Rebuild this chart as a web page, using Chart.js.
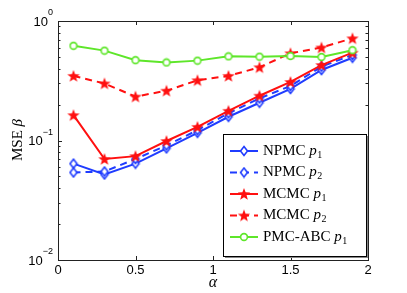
<!DOCTYPE html>
<html>
<head>
<meta charset="utf-8">
<script src="https://cdn.jsdelivr.net/npm/chart.js@4.4.1/dist/chart.umd.min.js"></script>
<style>
    body { margin: 0; background: #fff; }
    #wrap { width: 407px; height: 293px; }
</style>
</head>
<body>
<div id="wrap"><canvas id="mseChart" width="407" height="293"></canvas></div>
<script>
// alpha values on the x axis
const alphas = [0.1, 0.3, 0.5, 0.7, 0.9, 1.1, 1.3, 1.5, 1.7, 1.9];

// MSE of beta
const npmcP1 = [0.064, 0.052, 0.064, 0.086, 0.116, 0.158, 0.207, 0.270, 0.389, 0.493];
const npmcP2 = [0.054, 0.055, 0.070, 0.091, 0.122, 0.169, 0.225, 0.286, 0.415, 0.520];
const mcmcP1 = [0.163, 0.070, 0.074, 0.099, 0.130, 0.177, 0.237, 0.309, 0.428, 0.543];
const mcmcP2 = [0.347, 0.300, 0.233, 0.261, 0.319, 0.347, 0.410, 0.537, 0.600, 0.716];
const pmcAbcP1 = [0.620, 0.565, 0.470, 0.450, 0.466, 0.506, 0.503, 0.510, 0.500, 0.570];

const seriesNames = ['NPMC', 'NPMC', 'MCMC', 'MCMC', 'PMC-ABC'];
const seriesSubs = ['1', '2', '1', '2', '1'];

const xTicks = [0, 0.5, 1, 1.5, 2];
const yExps = [0, -1, -2];

const BLUE = '#1f3cff';
const RED = '#ff1010';
const GREEN = '#5ee62a';

const SANS = '"Liberation Sans", Arial, sans-serif';
const SERIF = '"Liberation Serif", "Times New Roman", serif';

function makeStar(color) {
    const c = document.createElement('canvas');
    c.width = 14; c.height = 14;
    const g = c.getContext('2d');
    g.fillStyle = color;
    g.beginPath();
    for (let i = 0; i < 10; i++) {
        const r = i % 2 === 0 ? 6.5 : 2.7;
        const a = -Math.PI / 2 + i * Math.PI / 5;
        const px = 7 + r * Math.cos(a), py = 7.5 + r * Math.sin(a);
        if (i === 0) g.moveTo(px, py); else g.lineTo(px, py);
    }
    g.closePath();
    g.fill();
    return c;
}

function makeDiamond(color) {
    const c = document.createElement('canvas');
    c.width = 10; c.height = 12;
    const g = c.getContext('2d');
    g.strokeStyle = color;
    g.lineWidth = 1.6;
    g.fillStyle = '#fff';
    g.beginPath();
    g.moveTo(5, 1.5); g.lineTo(8.5, 6); g.lineTo(5, 10.5); g.lineTo(1.5, 6);
    g.closePath();
    g.fill();
    g.stroke();
    return c;
}

function makeCircle(color) {
    const c = document.createElement('canvas');
    c.width = 10; c.height = 10;
    const g = c.getContext('2d');
    g.strokeStyle = color;
    g.lineWidth = 1.6;
    g.fillStyle = '#fff';
    g.beginPath();
    g.arc(5, 5, 3.4, 0, Math.PI * 2);
    g.fill();
    g.stroke();
    return c;
}

const diamondImg = makeDiamond(BLUE);
const starImg = makeStar(RED);
const circleImg = makeCircle(GREEN);

function pts(vals) {
    return vals.map((v, i) => ({ x: alphas[i], y: v }));
}

const datasets = [
    { data: pts(npmcP1), borderColor: BLUE, borderDash: [], pointStyle: diamondImg },
    { data: pts(npmcP2), borderColor: BLUE, borderDash: [7, 5], pointStyle: diamondImg },
    { data: pts(mcmcP1), borderColor: RED, borderDash: [], pointStyle: starImg },
    { data: pts(mcmcP2), borderColor: RED, borderDash: [7, 5], pointStyle: starImg },
    { data: pts(pmcAbcP1), borderColor: GREEN, borderDash: [], pointStyle: circleImg }
].map(d => Object.assign(d, { borderWidth: 2, tension: 0, fill: false }));

// reverse so the first series ends up on top
const drawOrder = datasets.slice().reverse();

const frame = {
    id: 'frame',
    afterDatasetsDraw(chart) {
        const ctx = chart.ctx;
        const a = chart.chartArea;
        const xs = chart.scales.x, ys = chart.scales.y;
        ctx.save();

        // axes box
        ctx.strokeStyle = '#222';
        ctx.lineWidth = 1;
        ctx.strokeRect(Math.round(a.left) + 0.5, Math.round(a.top) + 0.5, Math.round(a.right - a.left), Math.round(a.bottom - a.top));

        // x ticks (inward, bottom and top)
        ctx.beginPath();
        xTicks.forEach(t => {
            const px = Math.round(xs.getPixelForValue(t)) + 0.5;
            ctx.moveTo(px, a.bottom); ctx.lineTo(px, a.bottom - 4);
            ctx.moveTo(px, a.top); ctx.lineTo(px, a.top + 4);
        });
        // y log ticks on left and right
        for (let e = -2; e < 0; e++) {
            for (let m = 1; m <= 10; m++) {
                const py = Math.round(ys.getPixelForValue(m * Math.pow(10, e))) + 0.5;
                const len = (m === 1 || m === 10) ? 4 : 2.5;
                ctx.moveTo(a.left, py); ctx.lineTo(a.left + len, py);
                ctx.moveTo(a.right, py); ctx.lineTo(a.right - len, py);
            }
        }
        ctx.stroke();

        // tick labels
        ctx.fillStyle = '#000';
        ctx.font = '13px ' + SANS;
        ctx.textAlign = 'center';
        ctx.textBaseline = 'top';
        xTicks.forEach(t => {
            ctx.fillText(String(t), xs.getPixelForValue(t), a.bottom + 4);
        });
        yExps.forEach(e => {
            const py = ys.getPixelForValue(Math.pow(10, e));
            const sup = e === 0 ? '0' : '\u2212' + (-e);
            ctx.font = '9px ' + SANS;
            const supW = ctx.measureText(sup).width;
            ctx.textAlign = 'left';
            ctx.textBaseline = 'middle';
            ctx.fillText(sup, 53 - supW, py - 8);
            ctx.font = '13px ' + SANS;
            ctx.textAlign = 'right';
            ctx.fillText('10', 53 - supW, py + 1);
        });

        // axis titles
        ctx.font = 'italic 16px ' + SERIF;
        ctx.textAlign = 'center';
        ctx.textBaseline = 'middle';
        ctx.fillText('\u03b1', (a.left + a.right) / 2, 283);

        ctx.save();
        ctx.translate(18, 140);
        ctx.rotate(-Math.PI / 2);
        ctx.font = '15px ' + SERIF;
        const w1 = ctx.measureText('MSE ').width;
        ctx.font = 'italic 15px ' + SERIF;
        const w2 = ctx.measureText('\u03b2').width;
        ctx.textAlign = 'left';
        ctx.font = '15px ' + SERIF;
        ctx.fillText('MSE ', -(w1 + w2) / 2, 0);
        ctx.font = 'italic 15px ' + SERIF;
        ctx.fillText('\u03b2', -(w1 + w2) / 2 + w1, 0);
        ctx.restore();

        // legend box
        const lx = 223, ly = 134, lw = 143, lh = 122;
        ctx.fillStyle = '#888';
        ctx.fillRect(lx + 2, ly + 2, lw, lh);
        ctx.fillStyle = '#fff';
        ctx.fillRect(lx, ly, lw, lh);
        ctx.strokeStyle = '#000';
        ctx.lineWidth = 1;
        ctx.strokeRect(lx + 0.5, ly + 0.5, lw, lh);

        datasets.forEach((d, i) => {
            const cy = 151 + i * 21.5;
            ctx.strokeStyle = d.borderColor;
            ctx.lineWidth = 2;
            ctx.setLineDash(d.borderDash);
            ctx.beginPath();
            ctx.moveTo(230, cy); ctx.lineTo(258, cy);
            ctx.stroke();
            ctx.setLineDash([]);
            const img = d.pointStyle;
            ctx.drawImage(img, 244 - img.width / 2, cy - img.height / 2);

            ctx.fillStyle = '#000';
            ctx.textAlign = 'left';
            ctx.textBaseline = 'middle';
            ctx.font = '15px ' + SERIF;
            const name = seriesNames[i] + ' ';
            ctx.fillText(name, 263, cy);
            let x = 263 + ctx.measureText(name).width;
            ctx.font = 'italic 15px ' + SERIF;
            ctx.fillText('p', x, cy);
            x += ctx.measureText('p').width;
            ctx.font = '10px ' + SERIF;
            ctx.fillText(seriesSubs[i], x + 0.5, cy + 4);
        });

        ctx.restore();
    }
};

new Chart(document.getElementById('mseChart').getContext('2d'), {
    type: 'line',
    data: { datasets: drawOrder },
    options: {
        responsive: false,
        animation: false,
        events: [],
        layout: { padding: { left: 58, right: 39, top: 21, bottom: 33 } },
        elements: { point: { radius: 5, hoverRadius: 5 } },
        scales: {
            x: { type: 'linear', min: 0, max: 2, display: false },
            y: { type: 'logarithmic', min: 0.01, max: 1, display: false }
        },
        plugins: {
            legend: { display: false },
            tooltip: { enabled: false }
        }
    },
    plugins: [frame]
});
</script>
</body>
</html>
